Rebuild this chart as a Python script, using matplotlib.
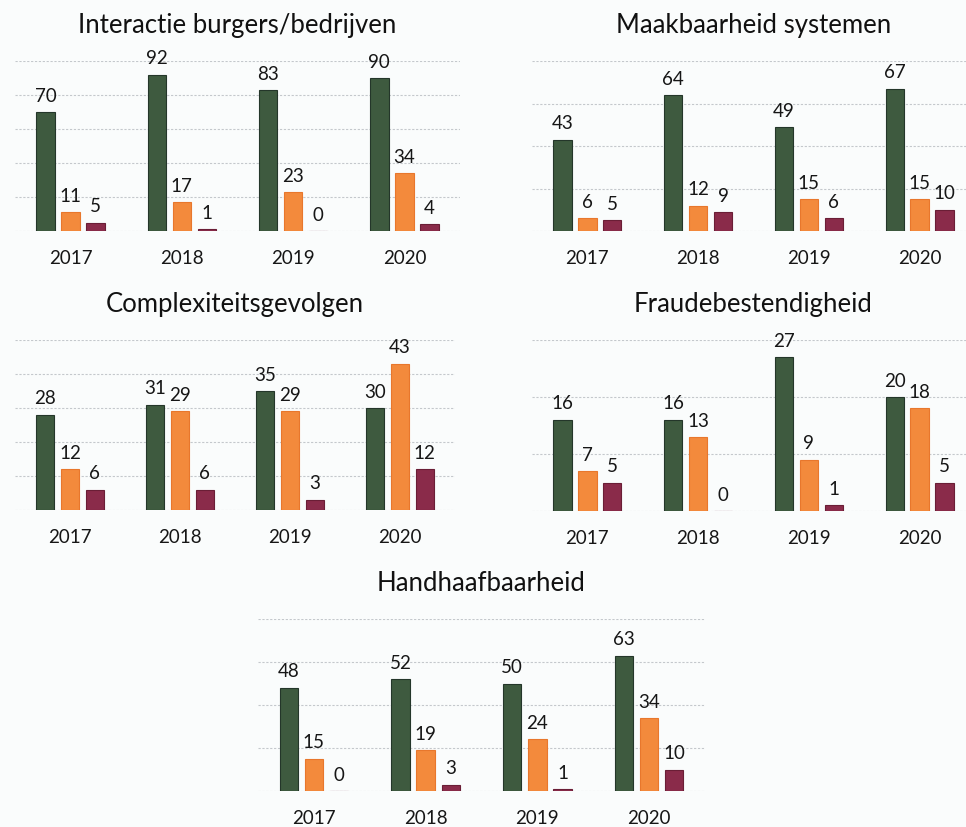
import numpy as np
import matplotlib
matplotlib.use('Agg')
import matplotlib.pyplot as plt

plt.rcParams['font.family'] = ['Lato', 'DejaVu Sans']

years = ['2017', '2018', '2019', '2020']

titles = ['Interactie burgers/bedrijven', 'Maakbaarheid systemen',
          'Complexiteitsgevolgen', 'Fraudebestendigheid', 'Handhaafbaarheid']

# three series per panel (green, orange, maroon)
interactie = [[70, 92, 83, 90], [11, 17, 23, 34], [5, 1, 0, 4]]
maakbaarheid = [[43, 64, 49, 67], [6, 12, 15, 15], [5, 9, 6, 10]]
complexiteit = [[28, 31, 35, 30], [12, 29, 29, 43], [6, 6, 3, 12]]
fraude = [[16, 16, 27, 20], [7, 13, 9, 18], [5, 0, 1, 5]]
handhaaf = [[48, 52, 50, 63], [15, 19, 24, 34], [0, 3, 1, 10]]

panels = [interactie, maakbaarheid, complexiteit, fraude, handhaaf]
ymax = [100, 80, 50, 30, 80]
ystep = [20, 20, 10, 10, 20]

colors = ['#3e5a3f', '#f38a3c', '#8a2b4a']
edges = ['#24362a', '#e8772c', '#6a1e36']

W, H = 966, 828
# axes boxes in pixels: left, top, right, bottom
boxes = [(15, 62, 460, 232), (532, 62, 975, 232),
         (15, 341, 455, 511), (532, 341, 975, 512),
         (258, 620, 705, 792)]

fig = plt.figure(figsize=(W / 100, H / 100), dpi=100)
fig.patch.set_facecolor('#fafcfc')

x = np.arange(len(years))
offs = [-0.225, 0, 0.225]
bw = 0.165

for data, title, top, step, (l, t, r, b) in zip(panels, titles, ymax, ystep, boxes):
    ax = fig.add_axes([l / W, 1 - b / H, (r - l) / W, (b - t) / H])
    ax.set_facecolor('none')
    for i, serie in enumerate(data):
        bars = ax.bar(x + offs[i], serie, bw, color=colors[i],
                      edgecolor=edges[i], linewidth=0.8, zorder=3)
        ax.bar_label(bars, labels=[str(v) for v in serie], padding=6,
                     fontsize=13.5, color='#161616')
    ax.set_xlim(-0.5, 3.5)
    ax.set_ylim(0, top)
    ax.set_yticks(np.arange(0, top + 1, step))
    ax.set_yticklabels([])
    ax.tick_params(axis='y', length=0)
    ax.tick_params(axis='x', length=0, pad=13, labelsize=13.5, labelcolor='#161616')
    ax.set_xticks(x)
    ax.set_xticklabels(years)
    ax.grid(axis='y', color='#c4c8cc', linestyle=(0, (2, 1.5)), linewidth=0.8, zorder=0)
    for s in ax.spines.values():
        s.set_visible(False)
    ax.set_title(title, fontsize=18.5, pad=21, color='#111111')

fig.savefig('out.png', dpi=100, facecolor=fig.get_facecolor())
